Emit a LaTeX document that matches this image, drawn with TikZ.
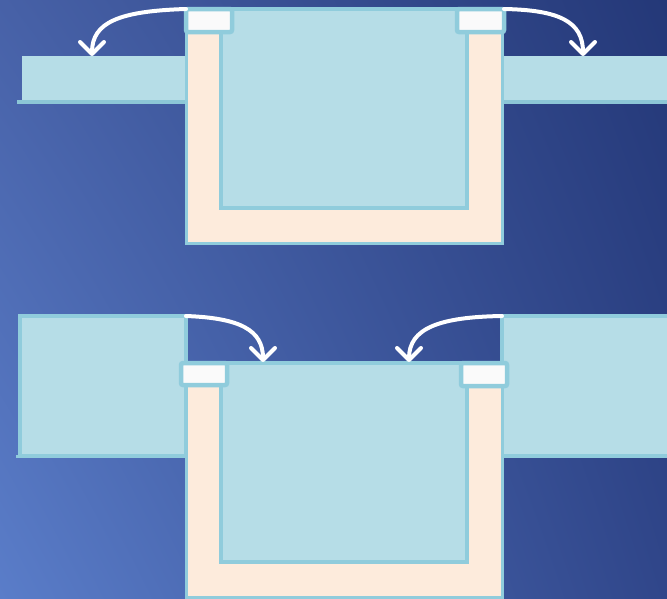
\documentclass[tikz,border=0pt]{standalone}
\usetikzlibrary{arrows.meta,shadings}
\definecolor{bgUL}{HTML}{4761A7}
\definecolor{bgLL}{HTML}{5A7DC9}
\definecolor{bgUR}{HTML}{243878}
\definecolor{bgLR}{HTML}{30468A}
\definecolor{lblue}{HTML}{B6DDE7}
\definecolor{bord}{HTML}{90CCDC}
\definecolor{sline}{HTML}{8CC6D6}
\definecolor{peach}{HTML}{FDEBDC}
\definecolor{capw}{HTML}{FAFAFA}
\tikzset{
  box/.style={rectangle, inner sep=0pt, outer sep=0pt, anchor=north west},
  slab/.style={box, fill=lblue},
  block/.style={box, fill=lblue, draw=bord, line width=3.5pt},
  outerU/.style={box, fill=peach, draw=bord, line width=3pt},
  innerU/.style={box, fill=lblue, draw=bord, line width=4pt},
  capbox/.style={box, fill=capw, draw=bord, line width=4.5pt, rounded corners=2pt},
  baseline/.style={draw=sline, line width=3.5pt},
  flow/.style={draw=white, line width=4pt, line cap=round,
    -{Straight Barb[length=12pt,width=24pt,round]}}
}
\begin{document}
\begin{tikzpicture}[x=1pt,y=-1pt]
\shade[upper left=bgUL, lower left=bgLL, upper right=bgUR, lower right=bgLR]
  (0,0) rectangle (667,598);
\useasboundingbox (0,0) rectangle (667,598);

% ---------- top diagram ----------
\node[slab, minimum width=164pt, minimum height=45pt] (slabL) at (22,56) {};
\node[slab, minimum width=164pt, minimum height=45pt] (slabR) at (503,56) {};
\coordinate (slabLb0) at (17,102);
\coordinate (slabRb1) at (667,102);
\draw[baseline] (slabLb0) -- (slabLb0 -| slabL.east);
\draw[baseline] (slabRb1 -| slabR.west) -- (slabRb1);

\node[outerU, minimum width=316pt, minimum height=234pt] (uT) at (186,9) {};
\node[innerU, minimum width=246pt, minimum height=199pt] (iT) at (221,9) {};
\node[capbox, minimum width=46pt, minimum height=23pt] (capTL) at (186,9) {};
\node[capbox, minimum width=47pt, minimum height=23pt] (capTR) at (457,9) {};

\coordinate (aT1) at (92,56);
\coordinate (aT2) at (583,56);
\draw[flow] (capTL.north west) .. controls (120,11) and (92,22) .. (aT1);
\draw[flow] (capTR.north east) .. controls (560,10) and (583,22) .. (aT2);

% ---------- bottom diagram ----------
\node[block, minimum width=166pt, minimum height=140pt] (blkL) at (20,316) {};
\node[block, minimum width=168pt, minimum height=140pt] (blkR) at (502,316) {};
\coordinate (blkLb0) at (16,456);
\draw[baseline, line width=3pt, draw=bord] (blkLb0) -- (blkLb0 -| blkL.east);

\node[outerU, minimum width=316pt, minimum height=234pt] (uB) at (186,363) {};
\node[innerU, minimum width=246pt, minimum height=199pt] (iB) at (221,363) {};
\node[capbox, minimum width=46pt, minimum height=22pt] (capBL) at (181,363) {};
\node[capbox, minimum width=46pt, minimum height=23pt] (capBR) at (461,363) {};

\coordinate (aB1) at (263,362);
\coordinate (aB2) at (409,362);
\draw[flow] (blkL.north east) .. controls (240,318) and (263,330) .. (aB1);
\draw[flow] (blkR.north west) .. controls (440,317) and (409,328) .. (aB2);
\end{tikzpicture}
\end{document}
